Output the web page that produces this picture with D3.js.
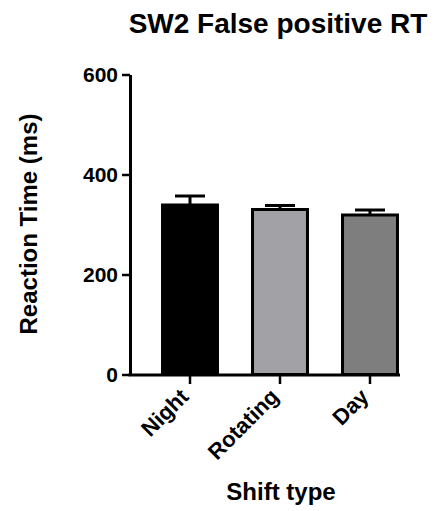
<!DOCTYPE html>
<html>
<head>
<meta charset="utf-8">
<script src="https://cdn.jsdelivr.net/npm/d3@7"></script>
<style>
  html, body { margin: 0; padding: 0; background: #fff; }
  svg { display: block; font-family: "Liberation Sans", Arial, sans-serif; }
</style>
</head>
<body>
<svg id="chart" width="444" height="511"></svg>
<script>
// Mean false-positive reaction time per shift type, with upper SEM bars
const categories = ["Night", "Rotating", "Day"];
const meanRT = [339, 330, 319];
const semRT = [18, 8, 10];
const barFills = ["#000000", "#a2a2a6", "#7e7e7e"];
const yTicks = [0, 200, 400, 600];

const svg = d3.select("#chart");

const x = d3.scaleBand()
  .domain(categories)
  .range([145, 415])
  .paddingInner(0.356)
  .paddingOuter(0.178);

const y = d3.scaleLinear()
  .domain([0, 600])
  .range([374.5, 74.5]);

const data = categories.map((c, i) => ({ c, v: meanRT[i], e: semRT[i], fill: barFills[i] }));

// Bars
svg.append("g").selectAll("rect")
  .data(data)
  .join("rect")
  .attr("x", d => x(d.c) + 1.5)
  .attr("width", x.bandwidth() - 3)
  .attr("y", d => y(d.v))
  .attr("height", d => y(0) - y(d.v))
  .attr("fill", d => d.fill)
  .attr("stroke", "#000")
  .attr("stroke-width", 3);

// Error bars (upper only)
const eb = svg.append("g").attr("stroke", "#000").attr("stroke-width", 3);
eb.selectAll("line.stem")
  .data(data)
  .join("line")
  .attr("class", "stem")
  .attr("x1", d => x(d.c) + x.bandwidth() / 2)
  .attr("x2", d => x(d.c) + x.bandwidth() / 2)
  .attr("y1", d => y(d.v))
  .attr("y2", d => y(d.v + d.e));
eb.selectAll("line.cap")
  .data(data)
  .join("line")
  .attr("class", "cap")
  .attr("x1", d => x(d.c) + x.bandwidth() / 2 - 15)
  .attr("x2", d => x(d.c) + x.bandwidth() / 2 + 15)
  .attr("y1", d => y(d.v + d.e))
  .attr("y2", d => y(d.v + d.e));

// Y axis
const yAxis = svg.append("g")
  .attr("transform", "translate(130,0)")
  .call(d3.axisLeft(y).tickValues(yTicks).tickSize(8).tickSizeOuter(0).tickPadding(4));
yAxis.select(".domain").attr("stroke", "#000").attr("stroke-width", 3);
yAxis.selectAll(".tick line").attr("stroke", "#000").attr("stroke-width", 2.5);
yAxis.selectAll(".tick text")
  .attr("fill", "#000")
  .style("font-size", "21px")
  .style("font-weight", "bold")
  .attr("dy", "0.35em");

// X axis
const xAxis = svg.append("g")
  .attr("transform", "translate(0,375)")
  .call(d3.axisBottom(x).tickSize(9).tickSizeOuter(0));
xAxis.select(".domain").attr("d", "M128.5,0H400").attr("stroke", "#000").attr("stroke-width", 3);
xAxis.selectAll(".tick line").attr("stroke", "#000").attr("stroke-width", 2.5);
xAxis.selectAll(".tick text")
  .attr("fill", "#000")
  .style("font-size", "22px")
  .style("font-weight", "bold")
  .attr("text-anchor", "end")
  .attr("x", 0)
  .attr("y", 0)
  .attr("dy", 0)
  .attr("transform", "translate(0,23) rotate(-45)");

// Titles
svg.append("text")
  .attr("x", 278)
  .attr("y", 33)
  .attr("text-anchor", "middle")
  .style("font-size", "28px")
  .style("font-weight", "bold")
  .text("SW2 False positive RT");

svg.append("text")
  .attr("transform", "translate(37,224) rotate(-90)")
  .attr("text-anchor", "middle")
  .style("font-size", "24px")
  .style("font-weight", "bold")
  .text("Reaction Time (ms)");

svg.append("text")
  .attr("x", 281)
  .attr("y", 500)
  .attr("text-anchor", "middle")
  .style("font-size", "24px")
  .style("font-weight", "bold")
  .text("Shift type");
</script>
</body>
</html>
